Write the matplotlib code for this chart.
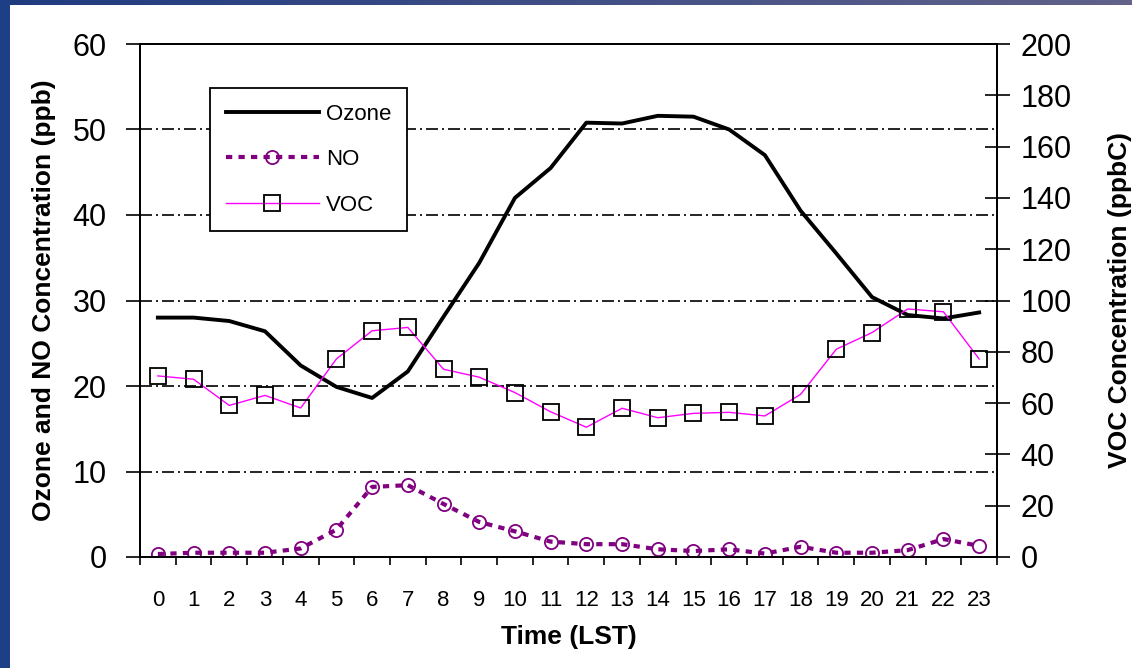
import numpy as np
import matplotlib
matplotlib.use("Agg")
import matplotlib.pyplot as plt
from matplotlib.lines import Line2D

plt.rcParams['font.family'] = ['Liberation Sans', 'DejaVu Sans']

# --- datos horarios ---
hours = list(range(24))
ozone = [28.0, 28.0, 27.6, 26.4, 22.4, 19.9, 18.6, 21.7, 28.1, 34.4, 42.0, 45.5,
         50.8, 50.7, 51.6, 51.5, 50.0, 47.0, 40.5, 35.5, 30.4, 28.3, 27.9, 28.6]
no = [0.35, 0.5, 0.5, 0.5, 1.0, 3.2, 8.2, 8.4, 6.2, 4.1, 3.0, 1.8,
      1.5, 1.5, 0.9, 0.7, 0.9, 0.4, 1.2, 0.5, 0.5, 0.8, 2.1, 1.3]
voc = [70.6, 69.3, 59.1, 63.0, 58.1, 77.2, 88.2, 89.5, 73.2, 70.1, 64.1, 56.6,
       50.6, 58.0, 54.3, 56.0, 56.4, 55.0, 63.4, 81.0, 87.5, 96.7, 95.6, 77.2]

left_ticks = [0, 10, 20, 30, 40, 50, 60]
right_ticks = list(range(0, 201, 20))

W, H = 1132, 668
fig = plt.figure(figsize=(W / 100, H / 100), dpi=100)
fig.patch.set_facecolor('white')

# --- marco azul de la diapositiva ---
top = fig.add_axes([0, 1 - 5 / H, 1, 5 / H])
grad = np.linspace(0, 1, 256)
c0 = np.array([0x1f, 0x3b, 0x80]) / 255
c1 = np.array([0x62, 0x62, 0x8a]) / 255
top.imshow((c0[None, :] * (1 - grad[:, None]) + c1[None, :] * grad[:, None])[None, :, :],
           aspect='auto', extent=[0, 1, 0, 1])
top.axis('off')
left = fig.add_axes([0, 0, 10 / W, 1])
left.set_facecolor('#1d3f86')
left.set_xticks([])
left.set_yticks([])
for s in left.spines.values():
    s.set_visible(False)

ax = fig.add_axes([140 / W, (H - 557) / H, 857 / W, 513 / H])
ax2 = ax.twinx()

# --- grilla punto-raya ---
for v in left_ticks[1:-1]:
    ax.axhline(v, color='black', lw=1.2, ls=(0, (7.2, 2.4, 1.2, 2.4)), zorder=0)

l_oz, = ax.plot(hours, ozone, color='black', lw=2.8, zorder=3, label='Ozone')
l_no, = ax.plot(hours, no, color='#800080', lw=3, ls=(0, (1.5, 1.5)),
                marker='o', ms=9.5, mfc='none', mec='#800080', mew=1.3,
                zorder=3, label='NO')
l_voc, = ax2.plot(hours, voc, color='#ff00ff', lw=1.0, marker='s', ms=11,
                  mfc='none', mec='black', mew=1.3, zorder=3, label='VOC')

ax.set_xlim(-0.5, 23.5)
ax.set_ylim(0, 60)
ax2.set_ylim(0, 200)
ax.set_yticks(left_ticks)
ax2.set_yticks(right_ticks)
ax.set_xticks(hours)
ax.set_xticks(np.arange(-0.5, 24, 1), minor=True)
ax.tick_params(axis='x', which='major', length=0, pad=24, labelsize=16)
ax.tick_params(axis='x', which='minor', length=6, width=1.2, direction='out')
ax.tick_params(axis='y', length=10, width=1.2, direction='out', pad=14, labelsize=22)
ax2.tick_params(axis='y', length=18, width=1.2, direction='inout', pad=8, labelsize=22)

for a in (ax, ax2):
    for s in a.spines.values():
        s.set_linewidth(1.3)

ax.set_xlabel('Time (LST)', fontsize=19, fontweight='bold', labelpad=10)
ax.set_ylabel('Ozone and NO Concentration (ppb)', fontsize=19, fontweight='bold', labelpad=12)
ax2.set_ylabel('VOC Concentration (ppbC)', fontsize=19, fontweight='bold', labelpad=26)

leg = ax2.legend(handles=[l_oz, l_no, l_voc], loc='upper left',
                 bbox_to_anchor=(0.082, 0.914), borderaxespad=0, fontsize=16,
                 frameon=True, fancybox=False, shadow=False, framealpha=1,
                 edgecolor='black', handlelength=4.2, handletextpad=0.3,
                 labelspacing=1.1, borderpad=0.7, numpoints=1)
leg.get_frame().set_linewidth(1.3)

fig.savefig('out.png', dpi=100, facecolor='white')
